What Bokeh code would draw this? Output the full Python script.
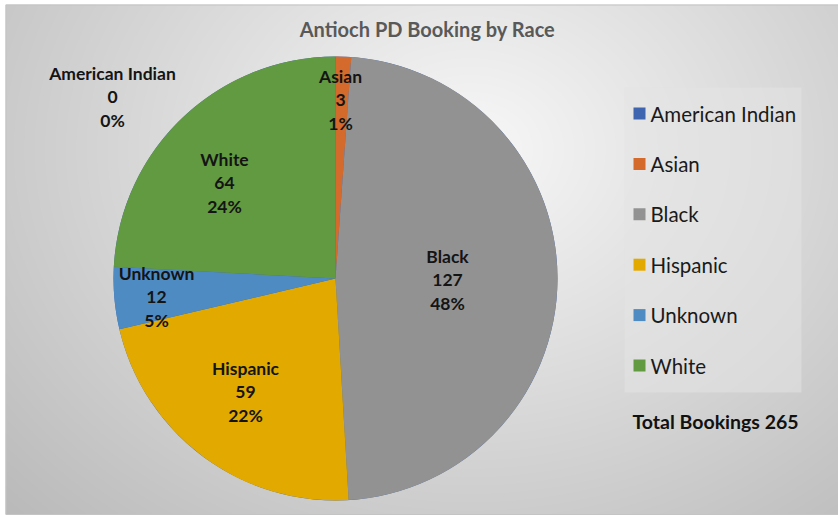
import numpy as np
from bokeh.plotting import figure
from bokeh.models import Range1d
from bokeh.core.properties import value
from bokeh.embed import file_html
from bokeh.resources import INLINE

# ---- data ----
categories = ["American Indian", "Asian", "Black", "Hispanic", "Unknown", "White"]
counts = [0, 3, 127, 59, 12, 64]
colors = ["#3F64B0", "#D46A2B", "#929292", "#E2AA00", "#4E8BC2", "#629A41"]
title_text = "Antioch PD Booking by Race"
total_label = "Total Bookings"

total = sum(counts)
pcts = [f"{round(100 * c / total)}%" for c in counts]

# ---- layout (page pixels) ----
W, H = 838, 515
def fx(px):
    return px
def fy(py):
    return H - py

p = figure(width=W, height=H, output_backend="svg", toolbar_location=None,
           x_range=Range1d(0, W), y_range=Range1d(0, H), min_border=0)
p.axis.visible = False
p.grid.visible = False
p.outline_line_color = None
p.background_fill_color = "white"
p.border_fill_color = "white"

# chart area with radial gradient
X0, X1, Y0, Y1 = 5, 838, 4, 514
cw, ch = X1 - X0, Y1 - Y0
yy, xx = np.mgrid[0:ch, 0:cw]
px_page = xx + X0
py_page = Y1 - yy  # row 0 is at the bottom
t = np.sqrt(((px_page - 470) / 520.0) ** 2 + ((py_page - 150) / 420.0) ** 2)
L = np.clip(248 - 50 * t, 185, 250).astype(np.uint32)
img = (np.uint32(255) << 24) | (L << 16) | (L << 8) | L
p.image_rgba(image=[img.astype(np.uint32)], x=fx(X0), y=fy(Y1), dw=cw, dh=ch)
p.quad(left=fx(X0) + 0.5, right=fx(X1) + 0.5, top=fy(Y0) - 0.5, bottom=fy(Y1),
       fill_color=None, line_color="#c4c4c4", line_width=1)

# title
p.text(x=[fx(427)], y=[fy(28)], text=[title_text], text_align="center",
       text_baseline="middle", text_font=value("Lato"), text_font_size="20px",
       text_font_style="bold", text_color="#595959")

# pie
pcx, pcy, R = fx(335), fy(278), 222
fr = np.array(counts) / total
ends = np.cumsum(fr)
starts = ends - fr
start_ang = np.pi / 2 - starts * 2 * np.pi
end_ang = np.pi / 2 - ends * 2 * np.pi
p.wedge(x=pcx, y=pcy, radius=R, start_angle=start_ang, end_angle=end_ang,
        direction="clock", fill_color=colors, line_color=None)

# data labels (page-pixel centres of each label block)
label_pos = [(112, 96), (340, 99), (447, 279), (245, 391), (156, 296), (224, 182)]
lx, ly, lt = [], [], []
for (x0, y0), name, c, pc in zip(label_pos, categories, counts, pcts):
    for k, s in enumerate([name, str(c), pc]):
        lx.append(fx(x0))
        ly.append(fy(y0 + (k - 1) * 23.5))
        lt.append(s)
p.text(x=lx, y=ly, text=lt, text_align="center", text_baseline="middle",
       text_font=value("Lato"), text_font_size="17.5px", text_font_style="bold",
       text_color="#141414")

# legend box
p.quad(left=fx(624), right=fx(801), top=fy(87), bottom=fy(392),
       fill_color="#e4e4e4", fill_alpha=0.55, line_color=None)
leg_y = [fy(113 + 50.4 * i) for i in range(len(categories))]
p.rect(x=[fx(639)] * len(categories), y=leg_y, width=12, height=12,
       fill_color=colors, line_color=None)
p.text(x=[fx(650)] * len(categories), y=leg_y, text=categories,
       text_align="left", text_baseline="middle", text_font=value("Lato"),
       text_font_size="20.5px", text_color="#1a1a1a")

p.text(x=[fx(632)], y=[fy(421)], text=[f"{total_label} {total}"],
       text_align="left", text_baseline="middle", text_font=value("Lato"),
       text_font_size="19.5px", text_font_style="bold", text_color="#111111")

open("out.html", "w").write(file_html(p, INLINE))
